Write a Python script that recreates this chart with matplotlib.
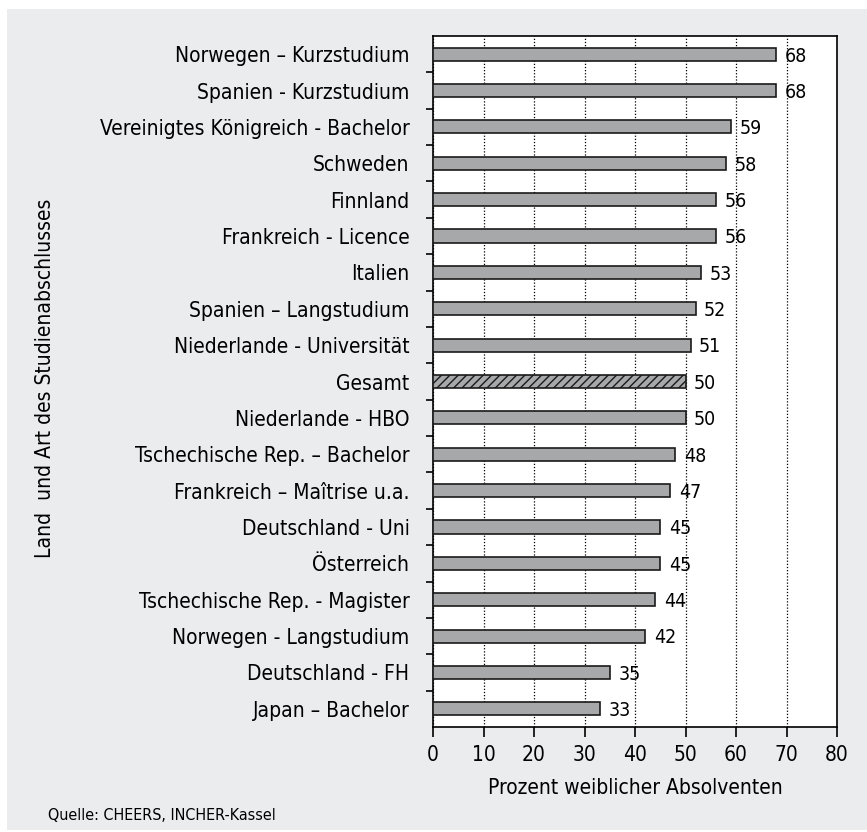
import numpy as np
import matplotlib.pyplot as plt
from matplotlib.ticker import FixedLocator

# Daten (von oben nach unten)
kategorien = [
    'Norwegen – Kurzstudium',
    'Spanien - Kurzstudium',
    'Vereinigtes Königreich - Bachelor',
    'Schweden',
    'Finnland',
    'Frankreich - Licence',
    'Italien',
    'Spanien – Langstudium',
    'Niederlande - Universität',
    'Gesamt',
    'Niederlande - HBO',
    'Tschechische Rep. – Bachelor',
    'Frankreich – Maîtrise u.a.',
    'Deutschland - Uni',
    'Österreich',
    'Tschechische Rep. - Magister',
    'Norwegen - Langstudium',
    'Deutschland - FH',
    'Japan – Bachelor',
]
werte = [68, 68, 59, 58, 56, 56, 53, 52, 51, 50, 50, 48, 47, 45, 45, 44, 42, 35, 33]
x_ticks = [0, 10, 20, 30, 40, 50, 60, 70, 80]

plt.rcParams['font.family'] = ['DejaVu Sans']
plt.rcParams['font.stretch'] = 'condensed'

hintergrund = '#ebecee'
fig = plt.figure(figsize=(8.67, 8.32), dpi=100, facecolor='white')
# grauer Hintergrund-Kasten
fig.patches.append(plt.Rectangle((7 / 867, 2 / 832), 1, 1 - 11 / 832, transform=fig.transFigure,
                                 facecolor=hintergrund, edgecolor='none', zorder=-10))

ax = fig.add_axes([433 / 867, 1 - 727 / 832, 404 / 867, 691 / 832])
ax.set_facecolor('white')

y = np.arange(len(kategorien))
bars = ax.barh(y, werte, height=0.36, color='#a7a8aa', edgecolor='#1a1a1a', linewidth=1.2, zorder=3)
bars[kategorien.index('Gesamt')].set_hatch('////')

for yi, w in zip(y, werte):
    ax.text(w + 1.7, yi + 0.05, str(w), va='center', ha='left', fontsize=14, zorder=4)

ax.set_xlim(0, 80)
ax.set_ylim(len(kategorien) - 0.5, -0.5)
ax.set_xticks(x_ticks)
ax.set_yticks(y)
ax.set_yticklabels(kategorien, fontsize=15)
ax.yaxis.set_minor_locator(FixedLocator(np.arange(0.5, len(kategorien) - 1, 1)))
ax.tick_params(axis='y', which='major', length=0, pad=17)
ax.tick_params(axis='y', which='minor', length=5, width=1.2, direction='out')
ax.tick_params(axis='x', labelsize=15, length=7, width=1.2, direction='out', pad=6)
ax.xaxis.grid(True, linestyle=(0, (1, 1.5)), color='black', linewidth=0.9, zorder=1)
for s in ax.spines.values():
    s.set_linewidth(1.2)

ax.set_xlabel('Prozent weiblicher Absolventen', fontsize=15, labelpad=9)
fig.text(45 / 867, 1 - 378 / 832, 'Land  und Art des Studienabschlusses', rotation=90,
         ha='center', va='center', fontsize=15)
fig.text(48 / 867, 1 - 815 / 832, 'Quelle: CHEERS, INCHER-Kassel', ha='left', va='center', fontsize=11.5)

fig.savefig('out.png', dpi=100, facecolor=fig.get_facecolor())
